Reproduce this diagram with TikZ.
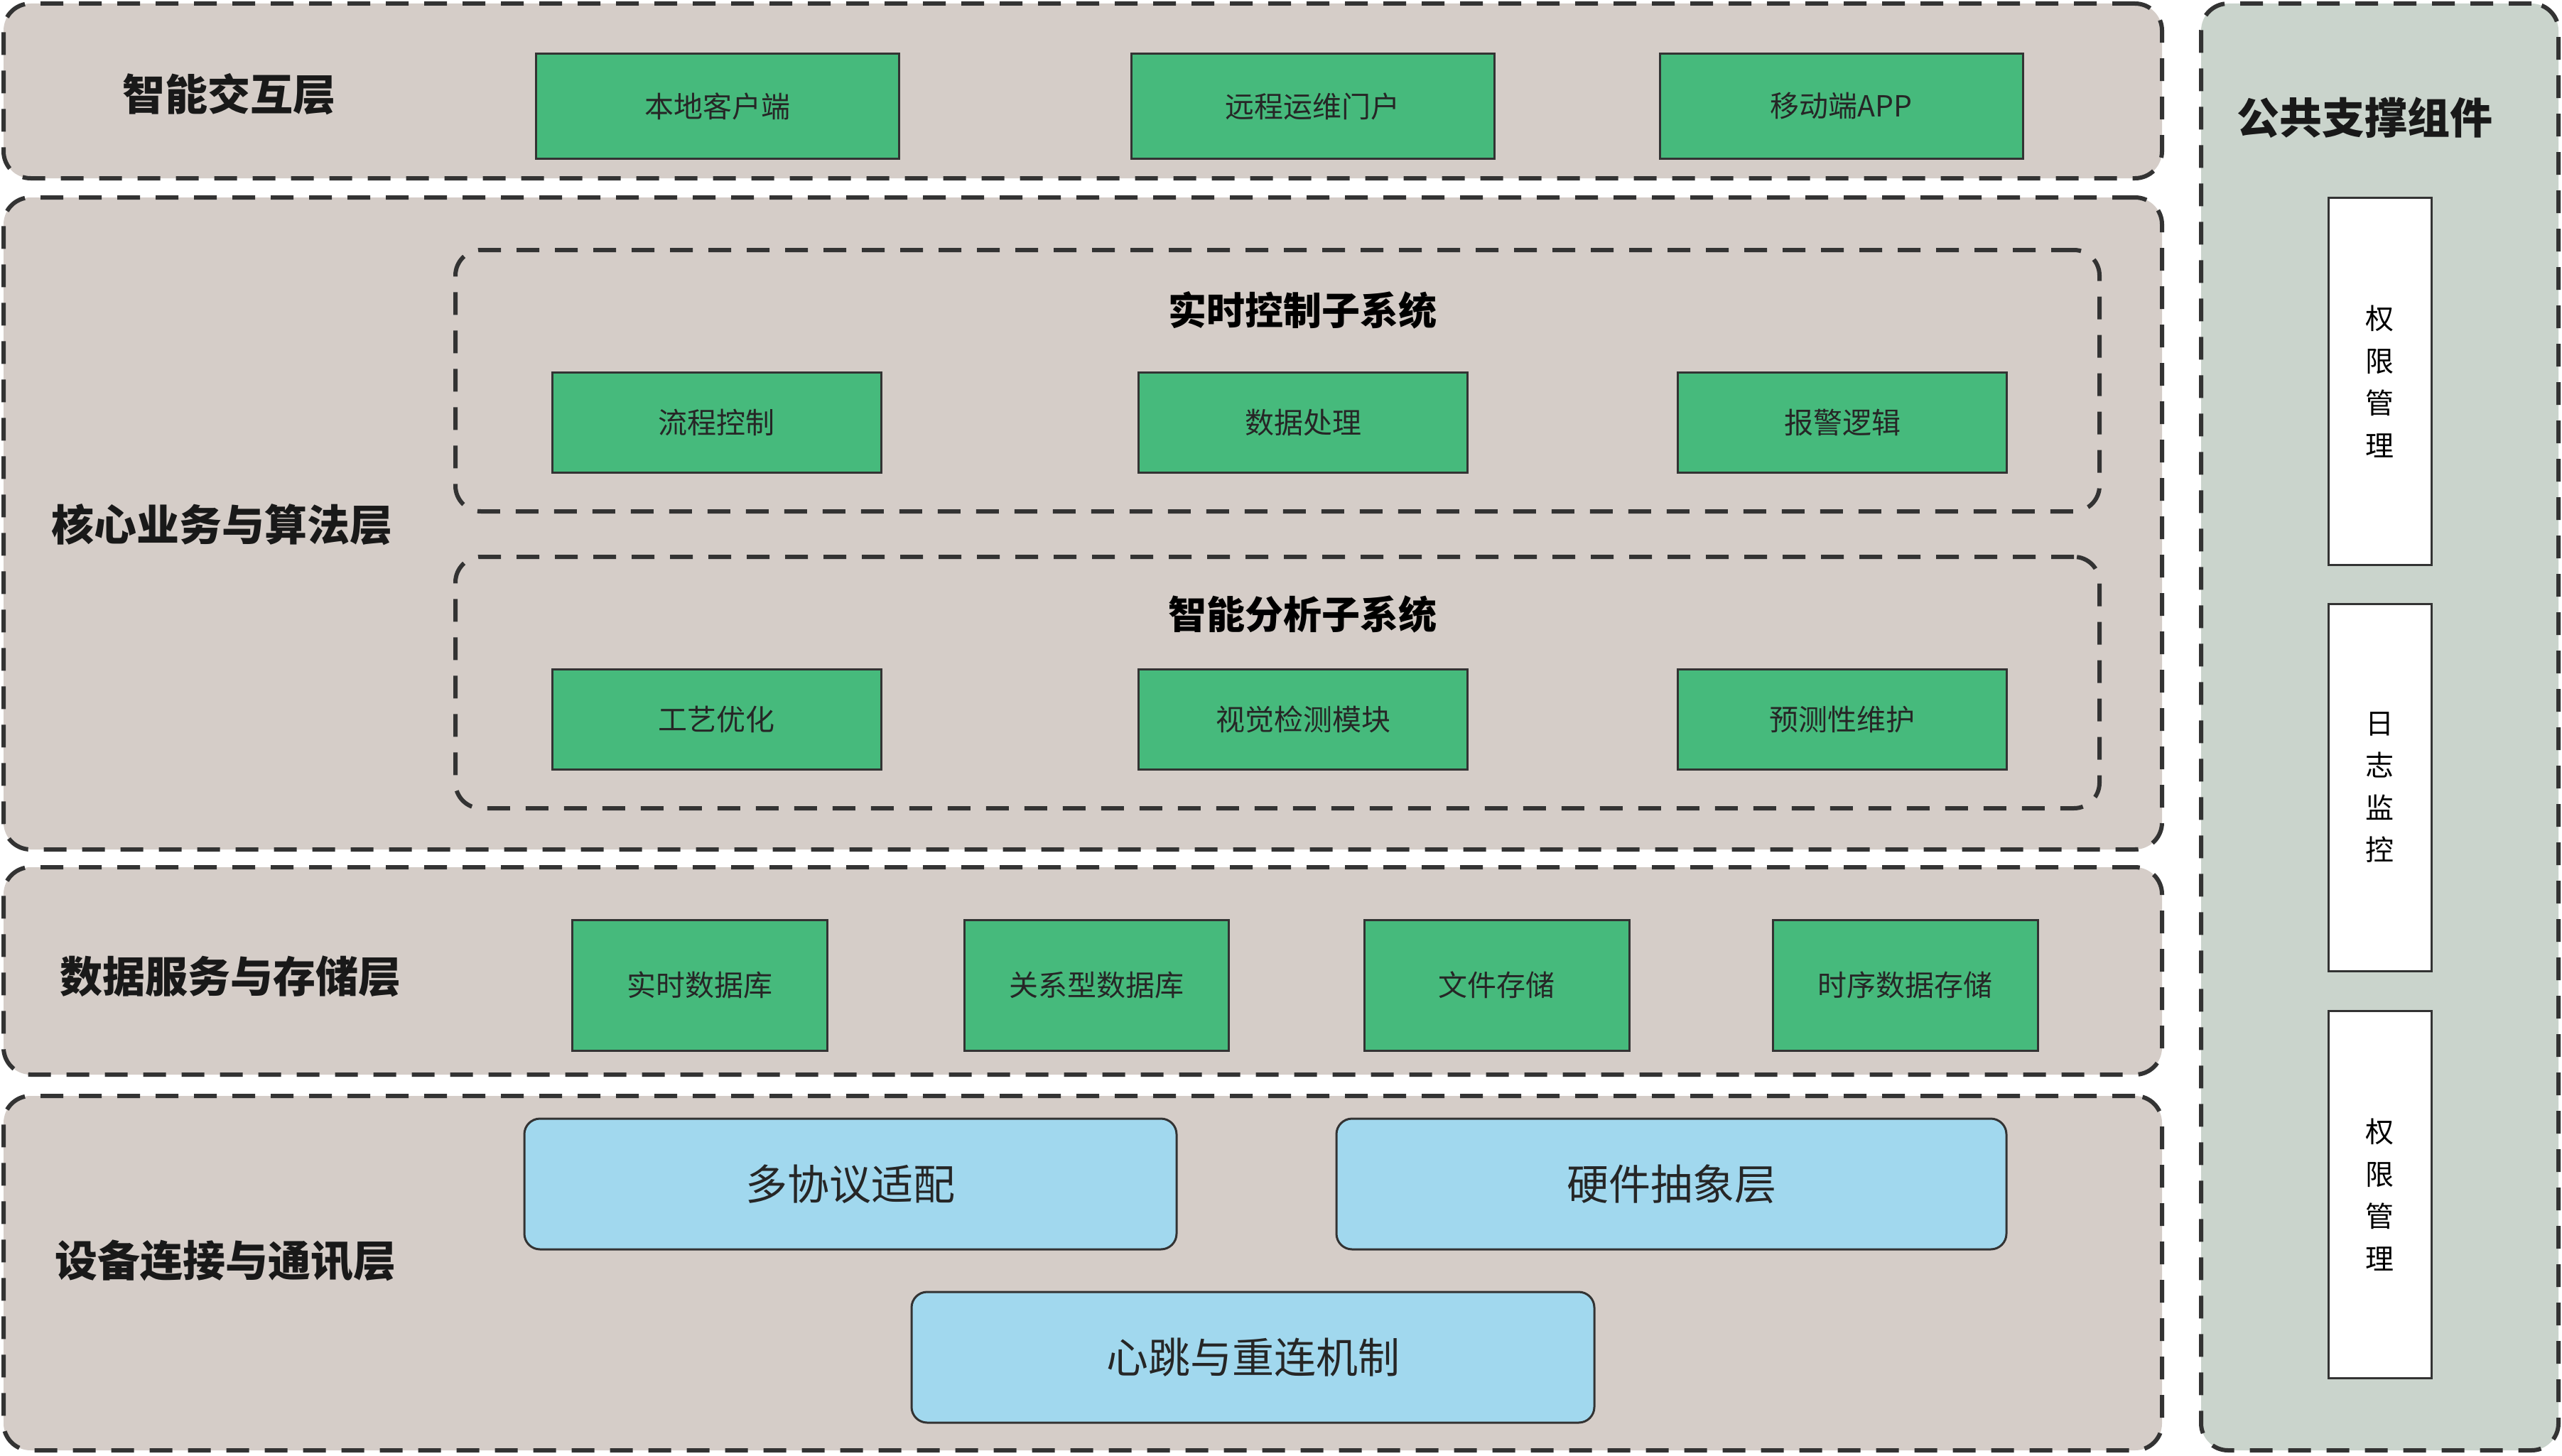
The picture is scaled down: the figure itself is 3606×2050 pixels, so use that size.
\documentclass[tikz,border=0pt]{standalone}
\usepackage{fontspec}
\setmainfont{Noto Sans CJK SC}
\usepackage{tikz}
\usetikzlibrary{positioning}
\definecolor{layerbg}{HTML}{D5CDC8}
\definecolor{panelbg}{HTML}{CAD4CC}
\definecolor{modgreen}{HTML}{46BA7C}
\definecolor{modblue}{HTML}{A1D8EE}
\definecolor{edgegray}{HTML}{333333}
\newcommand{\layerfont}{\fontsize{60}{68}\selectfont\bfseries}
\newcommand{\subfont}{\fontsize{54}{60}\selectfont\bfseries}
\newcommand{\modfont}{\fontsize{41}{48}\selectfont}

\begin{document}
\begin{tikzpicture}[x=1pt,y=-1pt,
  layer/.style={draw=edgegray,line width=6pt,dash pattern=on 32pt off 22pt,
    rounded corners=38pt,fill=layerbg,minimum width=3038pt,inner sep=0pt},
  subsys/.style={draw=edgegray,line width=6pt,dash pattern=on 32pt off 22pt,
    rounded corners=36pt,minimum width=2314pt,inner sep=0pt},
  title/.style={font=\layerfont,text=black!90},
  subtitle/.style={font=\subfont,text=black},
  greenmod/.style={draw=edgegray,line width=3pt,fill=modgreen,font=\modfont,
    text=black!85,inner sep=0pt},
  bluemod/.style={draw=edgegray,line width=3pt,fill=modblue,rounded corners=22pt,
    font=\fontsize{59}{66}\selectfont,text=black!85,minimum height=184pt,inner sep=0pt},
  whitemod/.style={draw=edgegray,line width=3pt,fill=white,minimum width=145pt,
    minimum height=517pt,align=center,font=\fontsize{40}{59.5}\selectfont,inner sep=0pt}]
\useasboundingbox (0,0) rectangle (3606,2050);

% layers
\node[layer,minimum height=246pt] (lyr1) at (1524,128) {};
\node[layer,minimum height=918pt] (lyr2) at (1524,737) {};
\node[layer,minimum height=292pt] (lyr3) at (1524,1367) {};
\node[layer,minimum height=499pt] (lyr4) at (1524,1792.5) {};
\node[layer,fill=panelbg,minimum width=503pt,minimum height=2037pt] (pub) at (3349.5,1023.5) {};

\node[title] (t1) at (322,133) {智能交互层};
\node[title] (t2) at (312,739) {核心业务与算法层};
\node[title] (t3) at (324,1375) {数据服务与存储层};
\node[title] (t4) at (317,1775) {设备连接与通讯层};
\node[title] (tp) at (3328,166) {公共支撑组件};

% interaction layer
\node[greenmod,minimum width=511pt,minimum height=147pt] (client) at (1009.5,149.5) {本地客户端};
\node[greenmod,minimum width=511pt,minimum height=147pt] (portal) at (1847.5,149.5) {远程运维门户};
\node[greenmod,minimum width=511pt,minimum height=147pt] (app) at (2591.5,149.5) {移动端APP};

% core layer
\node[subsys,minimum height=368pt] (rtsys) at (1798,536) {};
\node[subtitle] (rtname) at (1833,437) {实时控制子系统};
\node[greenmod,minimum width=463pt,minimum height=141pt] (flow) at (1008.5,594.5) {流程控制};
\node[greenmod,minimum width=463pt,minimum height=141pt] (proc) at (1834,594.5) {数据处理};
\node[greenmod,minimum width=463pt,minimum height=141pt] (alarm) at (2593,594.5) {报警逻辑};

\node[subsys,minimum height=354pt] (aisys) at (1798,961) {};
\node[subtitle] (ainame) at (1833,865) {智能分析子系统};
\node[greenmod,minimum width=463pt,minimum height=141pt] (optim) at (1008.5,1013) {工艺优化};
\node[greenmod,minimum width=463pt,minimum height=141pt] (vision) at (1834,1013) {视觉检测模块};
\node[greenmod,minimum width=463pt,minimum height=141pt] (maint) at (2593,1013) {预测性维护};

% data layer
\node[greenmod,minimum width=359pt,minimum height=184pt] (rtdb) at (984.5,1387) {实时数据库};
\node[greenmod,minimum width=372pt,minimum height=184pt] (reldb) at (1543,1387) {关系型数据库};
\node[greenmod,minimum width=373pt,minimum height=184pt] (files) at (2106.5,1387) {文件存储};
\node[greenmod,minimum width=373pt,minimum height=184pt] (tsdb) at (2681.5,1387) {时序数据存储};

% device layer
\node[bluemod,minimum width=918pt] (proto) at (1197,1667) {多协议适配};
\node[bluemod,minimum width=943pt] (hal) at (2352.5,1667) {硬件抽象层};
\node[bluemod,minimum width=961pt] (beat) at (1763.5,1911) {心跳与重连机制};

% public components
\node[whitemod] (auth1) at (3349.5,537) {权\\限\\管\\理};
\node[whitemod] (log) at (3349.5,1108.5) {日\\志\\监\\控};
\node[whitemod] (auth2) at (3349.5,1682) {权\\限\\管\\理};
\end{tikzpicture}
\end{document}
